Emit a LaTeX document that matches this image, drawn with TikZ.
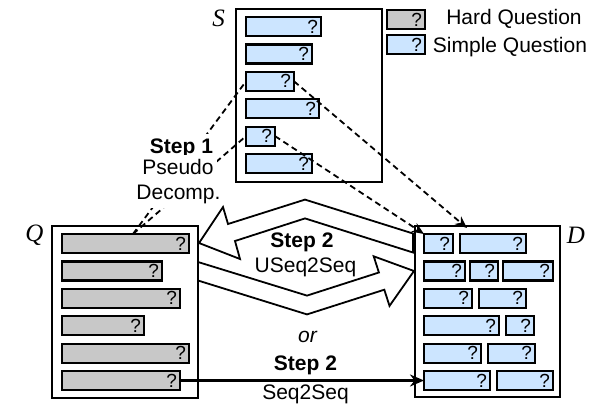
\documentclass[tikz,border=0pt]{standalone}
\usepackage{fontspec}
\setmainfont{Liberation Sans}
\newfontfamily\lblserif{Liberation Serif}
\usetikzlibrary{arrows.meta,calc}
\definecolor{hardgray}{RGB}{200,200,200}
\definecolor{easyblue}{RGB}{204,229,255}
\newcommand\qbox[5]{%
  \node[#2, minimum width=#5pt] (#1) at (#3,#4) {};
  \node[qmark] (#1m) at ([xshift=-3pt,yshift=3pt]#1.south east) {?};
}
\begin{document}
\begin{tikzpicture}[x=1pt,y=-1pt,
  every node/.style={inner sep=0pt, outer sep=0pt},
  frame/.style={draw, line width=2.3pt, anchor=north west},
  qb/.style={draw, line width=2.2pt, minimum height=19pt, anchor=north west},
  hard/.style={qb, fill=hardgray},
  easy/.style={qb, fill=easyblue},
  qmark/.style={anchor=base east, font=\fontsize{19}{19}\selectfont},
  txt/.style={anchor=base, font=\fontsize{21}{24}\selectfont},
  boldtxt/.style={anchor=base, font=\fontsize{21}{24}\selectfont\bfseries},
  whitebg/.style={fill=white, text height=16pt, text depth=5pt, inner xsep=3pt, inner ysep=3pt},
  setlbl/.style={anchor=base, font=\fontsize{25}{25}\selectfont\lblserif\itshape},
  dashline/.style={dash pattern=on 6pt off 4pt, line width=1.8pt},
  dasharrow/.style={dashline, -{Stealth[length=12pt,width=10pt]}},
  hollow/.style={draw, line width=1.8pt, fill=white, line join=miter},
  solidarrow/.style={line width=2.2pt, -{Stealth[length=14pt,width=12pt]}},
]
\useasboundingbox (0,0) rectangle (611,413);

% frames
\node[frame, minimum width=146pt, minimum height=173pt] (S) at (236,9) {};
\node[frame, minimum width=146pt, minimum height=172pt] (Q) at (52,226) {};
\node[frame, minimum width=145pt, minimum height=171pt] (D) at (415,226) {};
\node[setlbl] (Slbl) at (218.5,26) {S};
\node[setlbl] (Qlbl) at (34.5,241) {Q};
\node[setlbl] (Dlbl) at (576,243) {D};

% legend
\qbox{lh}{hard}{387}{10}{38}
\qbox{le}{easy}{387}{35}{38}
\node[txt] (lht) at (514,24.5) {Hard Question};
\node[txt] (let) at (510,52) {Simple Question};

% S items
\qbox{s1}{easy}{246}{17}{75}
\qbox{s2}{easy}{246}{44.4}{66}
\qbox{s3}{easy}{246}{71.8}{48}
\qbox{s4}{easy}{246}{99.2}{73}
\qbox{s5}{easy}{246}{126.6}{29}
\qbox{s6}{easy}{246}{154}{66}

% Q items
\qbox{q1}{hard}{62}{234}{127}
\qbox{q2}{hard}{62}{261.4}{100}
\qbox{q3}{hard}{62}{288.8}{118}
\qbox{q4}{hard}{62}{316.2}{82}
\qbox{q5}{hard}{62}{343.6}{127}
\qbox{q6}{hard}{62}{371}{118}

% D items
\qbox{r1a}{easy}{424}{234}{29}
\qbox{r1b}{easy}{460}{234}{66}
\qbox{r2a}{easy}{424}{261.4}{41}
\qbox{r2b}{easy}{470}{261.4}{28}
\qbox{r2c}{easy}{503}{261.4}{50}
\qbox{r3a}{easy}{424}{288.8}{48}
\qbox{r3b}{easy}{479}{288.8}{47}
\qbox{r4a}{easy}{424}{316.2}{75}
\qbox{r4b}{easy}{506}{316.2}{28}
\qbox{r5a}{easy}{424}{343.6}{57}
\qbox{r5b}{easy}{488}{343.6}{47}
\qbox{r6a}{easy}{424}{371}{66}
\qbox{r6b}{easy}{497}{371}{56}

% step 1 dashed lines
\coordinate (q1top) at ($(q1.north west)+(71,0)$);
\draw[dashline] (q1top) -- (s3.west);
\draw[dashline] (q1top) -- (s5.west);
\node[boldtxt, whitebg] (st1) at (181.5,153) {Step 1};
\node[txt, whitebg] (st1a) at (178,174) {Pseudo};
\node[txt, whitebg] (st1b) at (178.5,199.5) {Decomp.};

% dashed arrows to D
\coordinate (r1btop) at ($(r1b.north west)+(7,-6)$);
\draw[dasharrow] (s3.east) -- (r1btop);
\draw[dasharrow] (s5.east) -- (r1a.north west);

% hollow bent arrows (USeq2Seq)
\draw[hollow] (413,252.5) -- (305,218.4) -- (235,241) -- (240,259) -- (199,243)
  -- (223,207) -- (228,224) -- (305,199.6) -- (413,233.5) -- cycle;
\draw[hollow] (198,262) -- (307,295.6) -- (378.9,272.5) -- (373.7,256.3) -- (414,271)
  -- (389.5,305.9) -- (384.3,289.7) -- (307,314.4) -- (198,280.5) -- cycle;
\node[boldtxt] (st2u) at (302,247) {Step 2};
\node[txt] (st2ua) at (305.5,272) {USeq2Seq};

% Seq2Seq
\node[txt, font=\fontsize{21}{24}\selectfont\itshape] (ortxt) at (307.5,342.3) {or};
\node[boldtxt] (st2) at (305.5,370) {Step 2};
\draw[solidarrow] (q6.east) -- (r6a.west);
\node[txt] (st2a) at (305.5,399.5) {Seq2Seq};
\end{tikzpicture}
\end{document}
